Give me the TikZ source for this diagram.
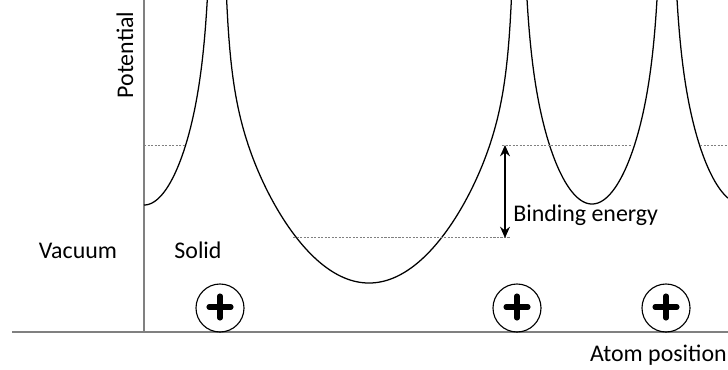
\documentclass[tikz,border=0pt]{standalone}
\usepackage{fontspec}
\setmainfont{Carlito}
\usetikzlibrary{arrows.meta, calc}

\begin{document}
\begin{tikzpicture}[
    x=0.025cm, y=-0.025cm,
    declare function={rise(\w,\p,\q)=\p*\w*\w+\q*\w*\w/(1-\w*\w);},
    axis/.style={draw=gray, line width=0.9pt},
    curve/.style={draw=black, line width=0.9pt},
    level/.style={draw=gray, line width=0.6pt, dash pattern=on 1.5pt off 1pt},
    atom/.style={circle, draw, line width=0.8pt, minimum size=1.2cm, inner sep=0pt},
    plus/.style={line width=3.6pt, line cap=round},
    arrow/.style={{Stealth[length=8pt,width=7pt]}-{Stealth[length=8pt,width=7pt]}, line width=2pt},
    lbl/.style={font=\fontsize{17}{20}\selectfont, inner sep=0pt}
  ]
  \useasboundingbox (0,0) rectangle (728,369);

  % axes
  \draw[axis] (144,0) -- (144,332);
  \draw[axis] (12,332) -- (728,332);

  % potential curve
  \begin{scope}
    \clip (0,0) rectangle (728,369);
    \draw[curve] plot[domain=144:208.8, samples=120] (\x, {205 - rise((\x-144)/72,134,30)});
    \draw[curve] plot[domain=226:512, samples=300] (\x, {283 - rise((\x-369)/149,176,11.7)});
    \draw[curve] plot[domain=525.4:658.6, samples=200] (\x, {204 - rise((\x-592)/74,134,30)});
    \draw[curve] plot[domain=675.4:728, samples=100] (\x, {204 - rise((\x-742)/74,134,30)});
  \end{scope}

  % energy levels
  \draw[level] (144,145) -- (185,145);
  \draw[level] (502,145) -- (632,145);
  \draw[level] (700,145) -- (728,145);
  \draw[level] (293,237) -- (510,237);

  % atoms
  \node[atom] (atom1) at (220,308) {};
  \node[atom] (atom2) at (517,308) {};
  \node[atom] (atom3) at (666,308) {};
  \foreach \a in {atom1, atom2, atom3} {
    \draw[plus] ($(\a.center)+(-11,-1)$) -- ($(\a.center)+(11,-1)$);
    \draw[plus] ($(\a.center)+(0,-12)$) -- ($(\a.center)+(0,10)$);
  }

  % binding energy
  \coordinate (be top) at (505,145);
  \coordinate (be bot) at (505,238);
  \draw[arrow] (be top) -- (be bot);
  \node[lbl, anchor=base west] (binding) at (513,221) {Binding energy};

  % labels
  \node[lbl, anchor=base, rotate=90] (potential) at (133,55) {Potential};
  \node[lbl, anchor=base] (vacuum) at (78,258) {Vacuum};
  \node[lbl, anchor=base] (solid) at (198,258) {Solid};
  \node[lbl, anchor=base east] (atompos) at (727,361) {Atom position};
\end{tikzpicture}
\end{document}
